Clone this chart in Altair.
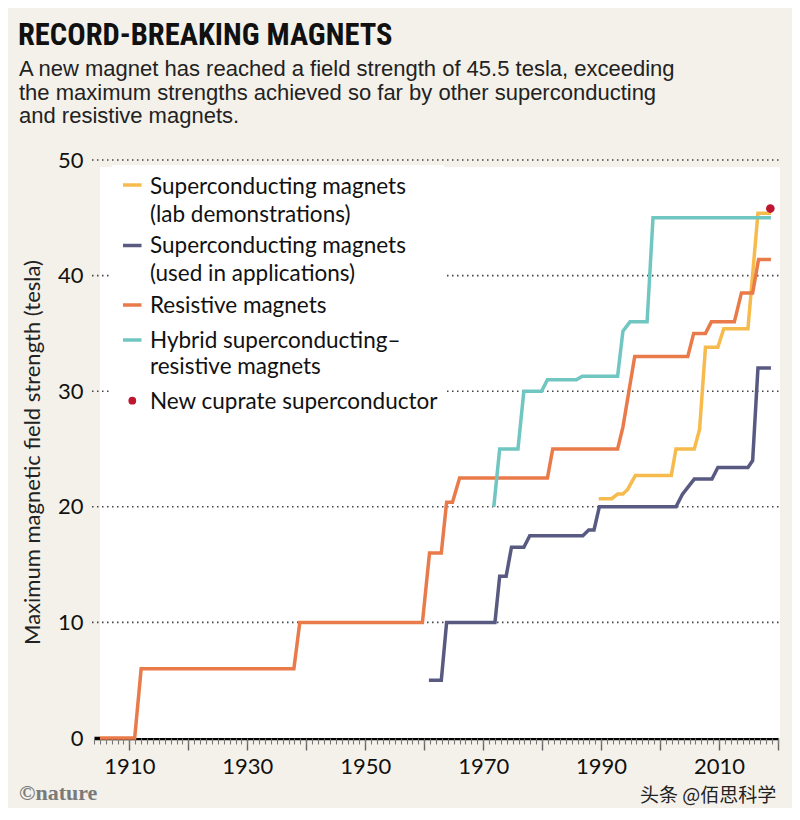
import altair as alt
import pandas as pd

# ---------------- data ----------------
series_names = [
    "Superconducting magnets (lab demonstrations)",
    "Superconducting magnets (used in applications)",
    "Resistive magnets",
    "Hybrid superconducting–resistive magnets",
]
series_colors = ["#f6bb4c", "#585a82", "#e97b4a", "#70c6c1"]

lab_years = [1989.6, 1991.8, 1992.8, 1993.7, 1994.5, 1995.8, 2001.9, 2002.7, 2005.8,
             2006.7, 2007.7, 2009.8, 2010.8, 2014.9, 2016.6, 2018.8]
lab_values = [20.7, 20.7, 21.1, 21.1, 21.5, 22.7, 22.7, 25.0, 25.0,
              26.7, 33.8, 33.8, 35.4, 35.4, 45.4, 45.4]

app_years = [1960.8, 1962.9, 1963.8, 1972.0, 1972.8, 1973.9, 1974.8, 1976.9, 1977.9,
             1986.9, 1987.9, 1988.8, 1989.7, 2002.7, 2003.8, 2005.8, 2008.8, 2009.8,
             2014.9, 2015.7, 2016.6, 2018.8]
app_values = [5, 5, 10, 10, 14, 14, 16.5, 16.5, 17.5,
              17.5, 18, 18, 20, 20, 21.1, 22.4, 22.4, 23.4,
              23.4, 24, 32, 32]

res_years = [1905, 1910.9, 1912, 1937.9, 1938.9, 1959.7, 1960.9, 1962.9, 1963.8, 1964.8,
             1966, 1980.9, 1981.8, 1992.8, 1993.7, 1995.7, 2004.7, 2005.7, 2007.7,
             2008.7, 2012.6, 2013.8, 2015.7, 2016.7, 2018.8]
res_values = [0, 0, 6, 6, 10, 10, 16, 16, 20.4, 20.4,
              22.5, 22.5, 25, 25, 26.9, 33, 33, 35, 35,
              36, 36, 38.5, 38.5, 41.4, 41.4]

hyb_years = [1971.8, 1972.8, 1975.9, 1976.9, 1979.9, 1980.9, 1985.8, 1986.8, 1992.8,
             1993.7, 1994.9, 1997.8, 1998.8, 2018.8]
hyb_values = [20, 25, 25, 30, 30, 31, 31, 31.3, 31.3,
              35.2, 36, 36, 45, 45]

cuprate_year = [2018.7]
cuprate_value = [45.8]

grid_values = [10, 20, 30, 40, 50]
y_tick_values = [0, 10, 20, 30, 40, 50]
major_years = list(range(1910, 2021, 10))
minor_years = list(range(1904, 2021, 1))

title_text = "RECORD-BREAKING MAGNETS"
subtitle_lines = [
    "A new magnet has reached a field strength of 45.5 tesla, exceeding",
    "the maximum strengths achieved so far by other superconducting",
    "and resistive magnets.",
]
legend_labels = [
    ["Superconducting magnets", "(lab demonstrations)"],
    ["Superconducting magnets", "(used in applications)"],
    ["Resistive magnets"],
    ["Hybrid superconducting–", "resistive magnets"],
]
cuprate_label = "New cuprate superconductor"
y_title = "Maximum magnetic field strength (tesla)"
credit = "©nature"
watermark = "头条 @佰思科学"

# ---------------- build tables ----------------
rows = []
for name, ys, vs in zip(series_names,
                        [lab_years, app_years, res_years, hyb_years],
                        [lab_values, app_values, res_values, hyb_values]):
    for i, (yr, v) in enumerate(zip(ys, vs)):
        rows.append({"series": name, "year": yr, "value": v, "idx": i})
lines_df = pd.DataFrame(rows)
dot_df = pd.DataFrame({"year": cuprate_year, "value": cuprate_value})
grid_df = pd.DataFrame({"v": grid_values})
one = pd.DataFrame({"a": [0]})

W, H = 684, 578
LEGEND_FONT = "Lato"
AX_FONT = "Lato"

xscale = alt.Scale(domain=[1904, 2020], nice=False, zero=False)
yscale = alt.Scale(domain=[0, 50], nice=False, zero=True)

y_axis = alt.Axis(values=y_tick_values, domain=False, ticks=False, grid=False,
                  labelFont=AX_FONT, labelFontSize=22, labelColor="#111111",
                  labelPadding=11, title=y_title, titleFont=AX_FONT,
                  titleFontSize=22, titleFontWeight="normal", titleColor="#222222",
                  titleX=-62, titleY=292, titleAngle=-90, titleAlign="center",
                  titleBaseline="middle")

panel = alt.Chart(one).mark_rect(color="white").encode(
    x=alt.value(6), x2=alt.value(W + 2), y=alt.value(7), y2=alt.value(H)
)

grid = alt.Chart(grid_df).mark_rule(
    color="#444444", strokeDash=[1.5, 3.5], strokeWidth=1.6
).encode(
    y=alt.Y("v:Q", scale=yscale, axis=y_axis),
    x=alt.value(-2), x2=alt.value(W + 2),
)

legend_cover = alt.Chart(one).mark_rect(color="white").encode(
    x=alt.value(18), x2=alt.value(350), y=alt.value(5), y2=alt.value(258)
)

lines = alt.Chart(lines_df).mark_line(strokeWidth=3.5, strokeJoin="miter").encode(
    x=alt.X("year:Q", scale=xscale,
            axis=alt.Axis(values=major_years, orient="bottom", format="d",
                          labelExpr="(datum.value - 1910) % 20 == 0 ? datum.label : ''",
                          tickSize=12, tickWidth=1.4, tickColor="#666666",
                          domain=True, domainColor="#000000", domainWidth=3.5,
                          grid=False, labelFont=AX_FONT, labelFontSize=22,
                          labelColor="#111111", labelPadding=6, title=None)),
    y=alt.Y("value:Q", scale=yscale, axis=y_axis),
    color=alt.Color("series:N", scale=alt.Scale(domain=series_names, range=series_colors),
                    legend=None),
    detail="series:N",
    order="idx:Q",
)

dot = alt.Chart(dot_df).mark_circle(size=75, color="#be1630", opacity=1).encode(
    x=alt.X("year:Q", scale=xscale,
            axis=alt.Axis(values=minor_years, orient="bottom", labels=False, tickSize=6,
                          tickWidth=1.1, tickColor="#777777", domain=False, grid=False,
                          title=None)),
    y=alt.Y("value:Q", scale=yscale, axis=y_axis),
)

layers = [panel, grid, legend_cover, lines, dot]

# legend
sw_y = [25, 85.5, 145, 180]
text_y = [[26.5, 55], [86, 114], [146], [181, 207]]
for color, ly, labs, tys in zip(series_colors, sw_y, legend_labels, text_y):
    layers.append(alt.Chart(one).mark_rule(color=color, strokeWidth=3.5).encode(
        x=alt.value(29), x2=alt.value(47.5), y=alt.value(ly)))
    for lab, ty in zip(labs, tys):
        layers.append(alt.Chart(one).mark_text(
            text=lab, font=LEGEND_FONT, fontSize=22.5, align="left", baseline="middle",
            color="#111111").encode(x=alt.value(56), y=alt.value(ty)))
layers.append(alt.Chart(one).mark_circle(size=60, color="#be1630", opacity=1).encode(
    x=alt.value(38.3), y=alt.value(240.7)))
layers.append(alt.Chart(one).mark_text(
    text=cuprate_label, font=LEGEND_FONT, fontSize=22.5, align="left", baseline="middle",
    color="#111111").encode(x=alt.value(56), y=alt.value(241.5)))

# title and subtitle
layers.append(alt.Chart(one).mark_text(
    text=title_text, font="Roboto Condensed, Liberation Sans Narrow, Roboto",
    fontWeight="bold", fontSize=30.5, align="left", baseline="alphabetic",
    color="#111111").encode(x=alt.value(-76), y=alt.value(-115)))
for line, by in zip(subtitle_lines, [-84, -60, -37]):
    layers.append(alt.Chart(one).mark_text(
        text=line, font="Liberation Sans", fontSize=22, align="left",
        baseline="alphabetic", color="#222222").encode(x=alt.value(-75), y=alt.value(by)))

layers.append(alt.Chart(one).mark_text(
    text=credit, font="Liberation Serif", fontWeight="bold", fontSize=22, align="left",
    baseline="alphabetic", color="#7a7a7a").encode(x=alt.value(-75), y=alt.value(640)))
layers.append(alt.Chart(one).mark_text(
    text=watermark, font="Noto Sans CJK SC", fontSize=19, align="left",
    baseline="middle", color="#222222").encode(x=alt.value(546), y=alt.value(636)))

chart = alt.layer(*layers).resolve_axis(x="independent").properties(
    width=W, height=H,
    autosize=alt.AutoSizeParams(type="none"),
    padding={"left": 86, "top": 152, "right": 14, "bottom": 70},
    background="#f4f1ea",
).configure_view(stroke=None)

chart.save("out.html", embed_options={"renderer": "svg", "actions": False})
